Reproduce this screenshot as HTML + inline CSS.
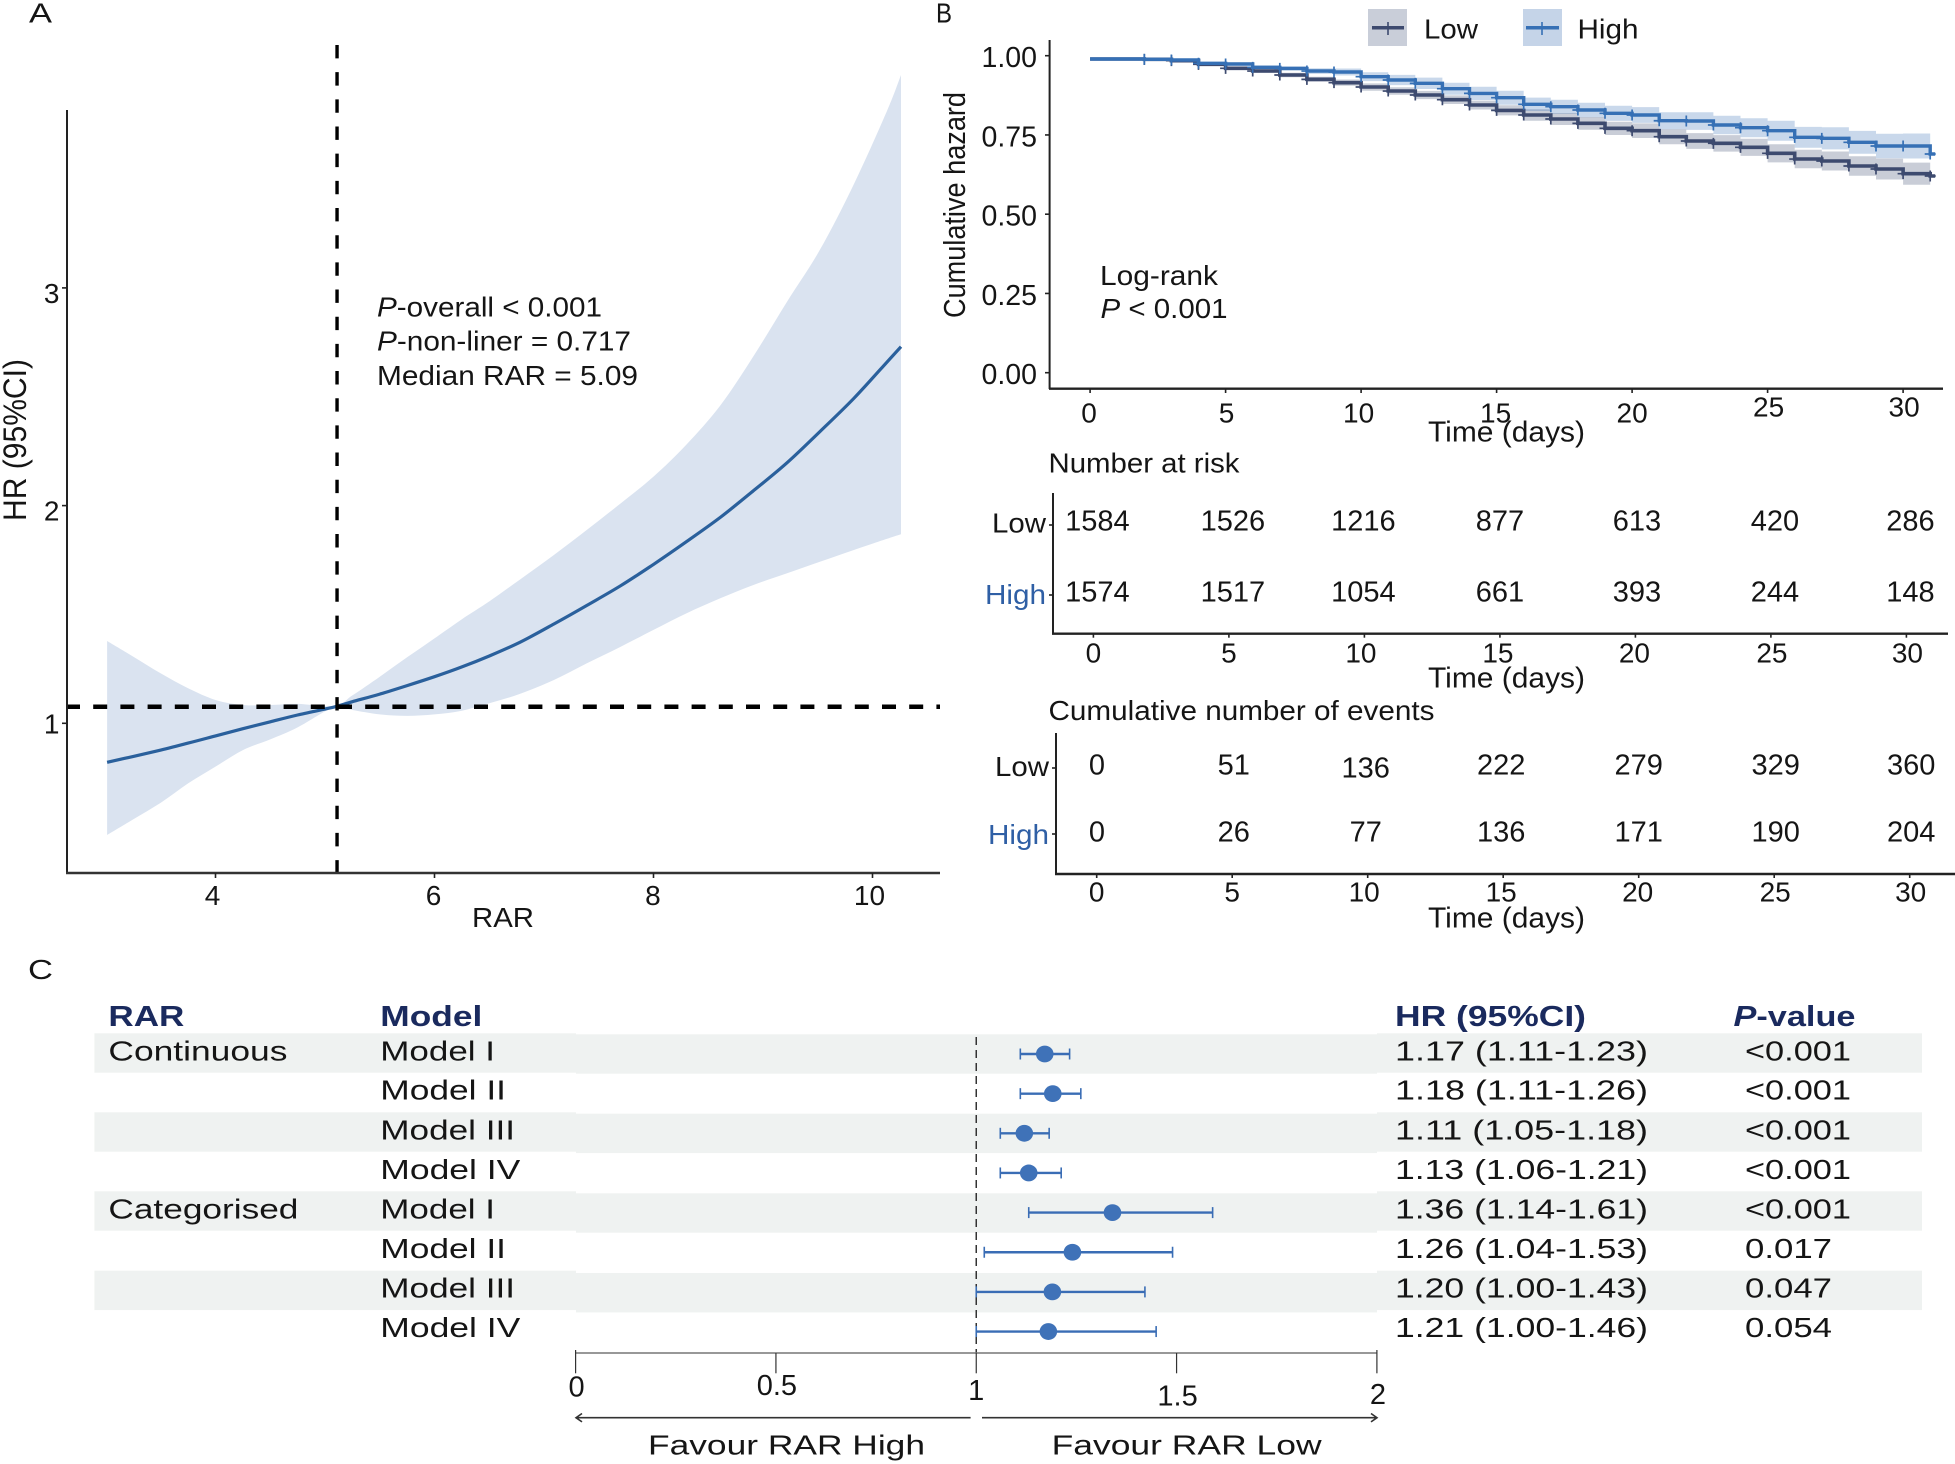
<!DOCTYPE html>
<html lang="en">
<head>
<meta charset="utf-8">
<title>RAR hazard ratio figure</title>
<style>
html,body{margin:0;padding:0;background:#fff;}
svg{display:block;font-family:"Liberation Sans",Arial,sans-serif;}
text{fill:#151515;}
.cell{font-size:28px;}
.hdr{font-size:29px;font-weight:bold;fill:#1a2a5e;}
</style>
</head>
<body>
<svg id="fig" xmlns="http://www.w3.org/2000/svg" width="1955" height="1464" viewBox="0 0 1955 1464">
  <rect x="0" y="0" width="1955" height="1464" fill="#fff"/>

  <!-- Panel letters -->
  <text x="29" y="22.7" font-size="28" textLength="23" lengthAdjust="spacingAndGlyphs">A</text>
  <text x="936" y="22.7" font-size="28" textLength="16" lengthAdjust="spacingAndGlyphs">B</text>
  <text x="28" y="979" font-size="28" textLength="25" lengthAdjust="spacingAndGlyphs">C</text>

  <!-- Panel A -->
  <g id="panelA"></g>
  <text transform="translate(26,440) rotate(-90)" text-anchor="middle" font-size="32" textLength="162" lengthAdjust="spacingAndGlyphs">HR (95%CI)</text>
  <text x="503" y="927" text-anchor="middle" font-size="28" textLength="62" lengthAdjust="spacingAndGlyphs">RAR</text>
  <text x="377" y="316.7" font-size="28" textLength="225" lengthAdjust="spacingAndGlyphs"><tspan font-style="italic">P</tspan>-overall &lt; 0.001</text>
  <text x="377" y="350.7" font-size="28" textLength="254" lengthAdjust="spacingAndGlyphs"><tspan font-style="italic">P</tspan>-non-liner = 0.717</text>
  <text x="377" y="385" font-size="28" textLength="261" lengthAdjust="spacingAndGlyphs">Median RAR = 5.09</text>

  <!-- Panel B -->
  <g id="legend">
    <rect x="1368" y="9" width="39" height="37" fill="#c9ced9"/>
    <rect x="1523" y="9" width="39" height="37" fill="#c5d4e8"/>
    <line x1="1372" y1="27.7" x2="1404" y2="27.7" stroke="#3d4a6f" stroke-width="3.5"/>
    <line x1="1388" y1="22" x2="1388" y2="35" stroke="#3d4a6f" stroke-width="1.6"/>
    <line x1="1526" y1="27.7" x2="1559" y2="27.7" stroke="#3670b5" stroke-width="3.5"/>
    <line x1="1542" y1="22" x2="1542" y2="35" stroke="#3670b5" stroke-width="1.6"/>
    <text x="1424" y="38.5" font-size="28" textLength="54" lengthAdjust="spacingAndGlyphs">Low</text>
    <text x="1577.5" y="38.5" font-size="28" textLength="61" lengthAdjust="spacingAndGlyphs">High</text>
  </g>
  <g id="panelB"></g>
  <text transform="translate(965,205) rotate(-90)" text-anchor="middle" font-size="31" textLength="226" lengthAdjust="spacingAndGlyphs">Cumulative hazard</text>
  <text x="1506.5" y="441.5" text-anchor="middle" font-size="29" textLength="157" lengthAdjust="spacingAndGlyphs">Time (days)</text>
  <text x="1100" y="285" font-size="28" textLength="118" lengthAdjust="spacingAndGlyphs">Log-rank</text>
  <text x="1100.5" y="318" font-size="28" textLength="127" lengthAdjust="spacingAndGlyphs"><tspan font-style="italic">P</tspan> &lt; 0.001</text>

  <text x="1048.5" y="472.7" font-size="28" textLength="191" lengthAdjust="spacingAndGlyphs">Number at risk</text>
  <g id="riskTable"></g>
  <text x="1506.5" y="687.5" text-anchor="middle" font-size="29" textLength="157" lengthAdjust="spacingAndGlyphs">Time (days)</text>

  <text x="1048.5" y="720" font-size="28" textLength="386" lengthAdjust="spacingAndGlyphs">Cumulative number of events</text>
  <g id="eventsTable"></g>
  <text x="1506.5" y="927.5" text-anchor="middle" font-size="29" textLength="157" lengthAdjust="spacingAndGlyphs">Time (days)</text>

  <!-- Panel C row stripes -->
  <g fill="#eff2f1">
    <rect x="94.4" y="1033.3" width="481.6" height="39.4"/>
    <rect x="576" y="1034.3" width="801" height="39.4"/>
    <rect x="1377" y="1033.3" width="545" height="39.4"/>
    <rect x="94.4" y="1112.3" width="481.6" height="39.4"/>
    <rect x="576" y="1113.7" width="801" height="39.4"/>
    <rect x="1377" y="1112.3" width="545" height="39.4"/>
    <rect x="94.4" y="1191.3" width="481.6" height="39.4"/>
    <rect x="576" y="1193.3" width="801" height="39.4"/>
    <rect x="1377" y="1191.3" width="545" height="39.4"/>
    <rect x="94.4" y="1270.7" width="481.6" height="39.4"/>
    <rect x="576" y="1273" width="801" height="39.4"/>
    <rect x="1377" y="1270.7" width="545" height="39.4"/>
  </g>

  <!-- Panel C table text -->
  <text class="hdr" x="108.4" y="1026" textLength="76" lengthAdjust="spacingAndGlyphs">RAR</text>
  <text class="hdr" x="380.3" y="1026" textLength="102" lengthAdjust="spacingAndGlyphs">Model</text>
  <text class="hdr" x="1395" y="1026" textLength="191" lengthAdjust="spacingAndGlyphs">HR (95%CI)</text>
  <text class="hdr" x="1733.5" y="1026" textLength="122" lengthAdjust="spacingAndGlyphs"><tspan font-style="italic">P</tspan>-value</text>

  <text class="cell" x="108.4" y="1060.3" textLength="179" lengthAdjust="spacingAndGlyphs">Continuous</text>
  <text class="cell" x="108.4" y="1218.5" textLength="190" lengthAdjust="spacingAndGlyphs">Categorised</text>

  <text class="cell" x="380.3" y="1060.3" textLength="114.7" lengthAdjust="spacingAndGlyphs">Model I</text>
  <text class="cell" x="380.3" y="1099.6" textLength="125.7" lengthAdjust="spacingAndGlyphs">Model II</text>
  <text class="cell" x="380.3" y="1139.5" textLength="134.7" lengthAdjust="spacingAndGlyphs">Model III</text>
  <text class="cell" x="380.3" y="1179" textLength="140" lengthAdjust="spacingAndGlyphs">Model IV</text>
  <text class="cell" x="380.3" y="1218.5" textLength="114.7" lengthAdjust="spacingAndGlyphs">Model I</text>
  <text class="cell" x="380.3" y="1258" textLength="125.7" lengthAdjust="spacingAndGlyphs">Model II</text>
  <text class="cell" x="380.3" y="1297.5" textLength="134.7" lengthAdjust="spacingAndGlyphs">Model III</text>
  <text class="cell" x="380.3" y="1337" textLength="140" lengthAdjust="spacingAndGlyphs">Model IV</text>

  <text class="cell" x="1395" y="1060.3" textLength="253" lengthAdjust="spacingAndGlyphs">1.17 (1.11-1.23)</text>
  <text class="cell" x="1395" y="1099.6" textLength="253" lengthAdjust="spacingAndGlyphs">1.18 (1.11-1.26)</text>
  <text class="cell" x="1395" y="1139.5" textLength="253" lengthAdjust="spacingAndGlyphs">1.11 (1.05-1.18)</text>
  <text class="cell" x="1395" y="1179" textLength="253" lengthAdjust="spacingAndGlyphs">1.13 (1.06-1.21)</text>
  <text class="cell" x="1395" y="1218.5" textLength="253" lengthAdjust="spacingAndGlyphs">1.36 (1.14-1.61)</text>
  <text class="cell" x="1395" y="1258" textLength="253" lengthAdjust="spacingAndGlyphs">1.26 (1.04-1.53)</text>
  <text class="cell" x="1395" y="1297.5" textLength="253" lengthAdjust="spacingAndGlyphs">1.20 (1.00-1.43)</text>
  <text class="cell" x="1395" y="1337" textLength="253" lengthAdjust="spacingAndGlyphs">1.21 (1.00-1.46)</text>

  <text class="cell" x="1745" y="1060.3" textLength="106" lengthAdjust="spacingAndGlyphs">&lt;0.001</text>
  <text class="cell" x="1745" y="1099.6" textLength="106" lengthAdjust="spacingAndGlyphs">&lt;0.001</text>
  <text class="cell" x="1745" y="1139.5" textLength="106" lengthAdjust="spacingAndGlyphs">&lt;0.001</text>
  <text class="cell" x="1745" y="1179" textLength="106" lengthAdjust="spacingAndGlyphs">&lt;0.001</text>
  <text class="cell" x="1745" y="1218.5" textLength="106" lengthAdjust="spacingAndGlyphs">&lt;0.001</text>
  <text class="cell" x="1745" y="1258" textLength="87" lengthAdjust="spacingAndGlyphs">0.017</text>
  <text class="cell" x="1745" y="1297.5" textLength="87" lengthAdjust="spacingAndGlyphs">0.047</text>
  <text class="cell" x="1745" y="1337" textLength="87" lengthAdjust="spacingAndGlyphs">0.054</text>

  <!-- Panel C plot -->
  <g id="panelC"></g>
  <path d="M970.6 1417.7H576M582 1413.5L576 1417.7L582 1421.9" fill="none" stroke="#333" stroke-width="1.6"/>
  <path d="M982 1417.7H1377M1371 1413.5L1377 1417.7L1371 1421.9" fill="none" stroke="#333" stroke-width="1.6"/>
  <text class="cell" x="648" y="1454.5" textLength="277" lengthAdjust="spacingAndGlyphs">Favour RAR High</text>
  <text class="cell" x="1051.6" y="1454.5" textLength="270" lengthAdjust="spacingAndGlyphs">Favour RAR Low</text>
</svg>

<script>
/* ---------- Panel A data ---------- */
const rarGrid = [3.01,3.25,3.5,3.75,4,4.25,4.5,4.75,5.09,5.25,5.5,5.75,6,6.25,6.5,6.78,7.09,7.39,7.70,8.00,8.30,8.61,8.91,9.22,9.52,9.83,10.13,10.26];
const hrCenter = [0.821,0.848,0.877,0.909,0.942,0.975,1.007,1.038,1.076,1.099,1.134,1.173,1.214,1.259,1.309,1.372,1.456,1.541,1.632,1.730,1.834,1.946,2.067,2.197,2.340,2.493,2.658,2.730];
const hrUpper = [1.378,1.306,1.229,1.161,1.107,1.084,1.084,1.089,1.079,1.128,1.214,1.303,1.390,1.478,1.560,1.660,1.773,1.888,2.010,2.133,2.280,2.460,2.684,2.937,3.175,3.477,3.810,3.978];
const hrLower = [0.487,0.559,0.635,0.724,0.801,0.877,0.926,0.981,1.076,1.061,1.041,1.034,1.041,1.058,1.092,1.135,1.199,1.275,1.352,1.429,1.505,1.574,1.635,1.689,1.742,1.796,1.847,1.868];
const rarTicks = [4,6,8,10];
const hrTicks = [1,2,3];
const medianRar = 5.11;
const referenceHr = 1.076;

/* ---------- Panel B data ---------- */
const days = [0,1,2,3,4,5,6,7,8,9,10,11,12,13,14,15,16,17,18,19,20,21,22,23,24,25,26,27,28,29,30,31];
const lowSurvival = [.9896,.9896,.9885,.9843,.9728,.9602,.9516,.9391,.9254,.9149,.9012,.8885,.876,.8612,.8444,.8276,.8129,.8003,.7866,.7709,.7634,.7445,.7309,.7236,.711,.692,.674,.6678,.652,.6426,.6278,.6205];
const highSurvival = [.9896,.9896,.9885,.9864,.976,.9738,.9633,.96,.9516,.9486,.9338,.9233,.9128,.8959,.8811,.8675,.8467,.8391,.8287,.8183,.8129,.7949,.7939,.7814,.7729,.7634,.7425,.7393,.7267,.7151,.7151,.6899];
const lowCiHalf = [.002,.002,.003,.003,.004,.005,.006,.007,.008,.010,.0115,.012,.013,.0135,.014,.016,.018,.019,.020,.021,.023,.024,.025,.026,.027,.0285,.029,.030,.031,.033,.035,.035];
const highCiHalf = [.002,.002,.003,.003,.004,.005,.006,.007,.009,.011,.014,.016,.018,.019,.021,.022,.021,.022,.023,.024,.025,.027,.028,.029,.030,.0315,.033,.035,.036,.0385,.0395,.0395];
const survivalTicks = ["0.00","0.25","0.50","0.75","1.00"];
const timeTicks = [0,5,10,15,20,25,30];

/* ---------- Risk tables ---------- */
const riskLow = [1584,1526,1216,877,613,420,286];
const riskHigh = [1574,1517,1054,661,393,244,148];
const eventsLow = [0,51,136,222,279,329,360];
const eventsHigh = [0,26,77,136,171,190,204];

/* ---------- Panel C data ---------- */
const forestPoint = [1.171,1.191,1.12,1.131,1.34,1.24,1.19,1.18];
const forestLow = [1.11,1.11,1.06,1.06,1.131,1.02,1.00,1.00];
const forestHigh = [1.233,1.261,1.182,1.212,1.59,1.49,1.421,1.449];
const forestTicks = [0,0.5,1,1.5,2];

const NS = "http://www.w3.org/2000/svg";
function add(parent, tag, attrs, txt) {
  const el = document.createElementNS(NS, tag);
  for (const k in attrs) el.setAttribute(k, attrs[k]);
  if (txt !== undefined) el.textContent = txt;
  parent.appendChild(el);
  return el;
}
function smooth(pts) {
  let d = "M" + pts[0][0].toFixed(1) + " " + pts[0][1].toFixed(1);
  for (let i = 0; i < pts.length - 1; i++) {
    const p0 = pts[Math.max(i - 1, 0)], p1 = pts[i], p2 = pts[i + 1], p3 = pts[Math.min(i + 2, pts.length - 1)];
    const c1x = p1[0] + (p2[0] - p0[0]) / 6, c1y = p1[1] + (p2[1] - p0[1]) / 6;
    const c2x = p2[0] - (p3[0] - p1[0]) / 6, c2y = p2[1] - (p3[1] - p1[1]) / 6;
    d += "C" + c1x.toFixed(1) + " " + c1y.toFixed(1) + " " + c2x.toFixed(1) + " " + c2y.toFixed(1) + " " + p2[0].toFixed(1) + " " + p2[1].toFixed(1);
  }
  return d;
}

/* ---------- Panel A ---------- */
const gA = document.getElementById("panelA");
const xA = r => 215.5 + (r - 4) * 109.5;
const yA = h => 723.3 - (h - 1) * 217.7;
const nudgeRarLabel = v => ({ 4: -3, 6: -1, 8: -0.6, 10: -3 })[v];

const upperPts = rarGrid.map((r, i) => [xA(r), yA(hrUpper[i])]);
const lowerPts = rarGrid.map((r, i) => [xA(r), yA(hrLower[i])]).reverse();
const bandA = add(gA, "path", { d: smooth(upperPts) + "L" + smooth(lowerPts).slice(1) + "Z", fill: "#dae3f0" });



const lineA = add(gA, "path", { d: smooth(rarGrid.map((r, i) => [xA(r), yA(hrCenter[i])])), fill: "none", stroke: "#2a609c", "stroke-width": 3.2 });



const refH = add(gA, "line", { x1: 66, x2: 940, y1: yA(referenceHr), y2: yA(referenceHr), stroke: "#000", "stroke-width": 4.5, "stroke-dasharray": "14 13.2" });



const refV = add(gA, "line", { x1: xA(medianRar), x2: xA(medianRar), y1: 45, y2: 873, stroke: "#000", "stroke-width": 3.4, "stroke-dasharray": "13.4 13.77" });



const yAxisA = add(gA, "line", { x1: 67, x2: 67, y1: 110, y2: 874, stroke: "#222", "stroke-width": 2 });


const xAxisA = add(gA, "line", { x1: 66, x2: 940, y1: 873, y2: 873, stroke: "#333", "stroke-width": 2.6 });



rarTicks.forEach(v => {
  const t = add(gA, "line", { x1: xA(v), x2: xA(v), y1: 873, y2: 878, stroke: "#222", "stroke-width": 1.6 });
  
  
  const l = add(gA, "text", { x: xA(v) + nudgeRarLabel(v), y: 905, "text-anchor": "middle", "font-size": 28 }, String(v));
  
  
});
hrTicks.forEach(v => {
  const t = add(gA, "line", { x1: 62, x2: 67, y1: yA(v), y2: yA(v), stroke: "#222", "stroke-width": 1.6 });
  
  
  const l = add(gA, "text", { x: 59.5, y: yA(v) + (v === 1 ? 10 : 15), "text-anchor": "end", "font-size": 28 }, String(v));
  
  
});

/* ---------- Panel B ---------- */
const gB = document.getElementById("panelB");
const xB = t => 1090.1 + t * 27.1;
const yB = s => 372.7 - s * 317;
const nudgeSurvLabel = v => ({ 0: -1, 5: 1, 10: -2.5, 15: -1, 20: 0, 25: 1, 30: 1 })[v];

function stepForward(vals) {
  let d = "M" + xB(days[0]).toFixed(1) + " " + yB(vals[0]).toFixed(1);
  for (let i = 1; i < days.length; i++) {
    d += "H" + xB(days[i]).toFixed(1) + "V" + yB(vals[i]).toFixed(1);
  }
  return d;
}
function stepBand(vals, half) {
  const n = days.length - 1;
  const hi = vals.map((v, i) => v + half[i]);
  const lo = vals.map((v, i) => v - half[i]);
  let d = "M" + xB(days[0]).toFixed(1) + " " + yB(hi[0]).toFixed(1);
  for (let i = 1; i < n; i++) {
    d += "H" + xB(days[i]).toFixed(1) + "V" + yB(hi[i]).toFixed(1);
  }
  d += "H" + xB(days[n]).toFixed(1) + "V" + yB(lo[n - 1]).toFixed(1);
  for (let i = n - 1; i >= 0; i--) {
    d += "H" + xB(days[i]).toFixed(1);
    if (i > 0) d += "V" + yB(lo[i - 1]).toFixed(1);
  }
  return d + "Z";
}

const bandLow = add(gB, "path", { d: stepBand(lowSurvival, lowCiHalf), fill: "#3d4a6f", "fill-opacity": 0.28 });


const bandHigh = add(gB, "path", { d: stepBand(highSurvival, highCiHalf), fill: "#3670b5", "fill-opacity": 0.27 });



const lineLow = add(gB, "path", { d: stepForward(lowSurvival) + "h5", fill: "none", stroke: "#3d4a6f", "stroke-width": 3.6 });


days.forEach((t, i) => {
  if (t < 2) return;
  const px = xB(t), py = yB(lowSurvival[i]);
  const a = add(gB, "path", { d: "M" + (px - 5.5) + " " + py + "H" + (px + 5.5) + "M" + px + " " + (py - 5.5) + "V" + (py + 5.5), fill: "none", stroke: "#3d4a6f", "stroke-width": 1.7 });
  
  
});
const lineHigh = add(gB, "path", { d: stepForward(highSurvival) + "h5", fill: "none", stroke: "#3670b5", "stroke-width": 3.4 });


days.forEach((t, i) => {
  if (t < 2) return;
  const px = xB(t), py = yB(highSurvival[i]);
  const b = add(gB, "path", { d: "M" + (px - 5.5) + " " + py + "H" + (px + 5.5) + "M" + px + " " + (py - 5.5) + "V" + (py + 5.5), fill: "none", stroke: "#3670b5", "stroke-width": 1.7 });
  
  
});

const yAxisB = add(gB, "line", { x1: 1049.6, x2: 1049.6, y1: 40, y2: 389, stroke: "#222", "stroke-width": 2 });


const xAxisB = add(gB, "line", { x1: 1049, x2: 1943, y1: 388.7, y2: 388.7, stroke: "#222", "stroke-width": 2.4 });



survivalTicks.forEach(s => {
  const v = parseFloat(s);
  const t = add(gB, "line", { x1: 1045, x2: 1049.6, y1: yB(v), y2: yB(v), stroke: "#222", "stroke-width": 1.6 });
  
  
  const l = add(gB, "text", { x: 1037, y: yB(v) + 11.5, "text-anchor": "end", "font-size": 28.5 }, s);
  
  
});
timeTicks.forEach(v => {
  const t = add(gB, "line", { x1: xB(v), x2: xB(v), y1: 388.7, y2: 393, stroke: "#222", "stroke-width": 1.6 });
  
  
  const l = add(gB, "text", { x: xB(v) + nudgeSurvLabel(v), y: v >= 25 ? 416.7 : 422.7, "text-anchor": "middle", "font-size": 28 }, String(v));
  
  
});

/* ---------- Risk tables ---------- */
const nudgeTableLabel = v => ({ 0: 0, 5: 0, 10: -3.5, 15: -2, 20: -1, 25: 1, 30: 1 })[v];
const riskColumnShift = [4, 4, -1, 0, 1.5, 4, 4];
const eventsColumnShift = [0.3, 1.5, -2, -2, 0, 1.5, 1.5];

function drawTable(g, x0, axisX, axisTop, axisY, axisEnd, rowLowY, rowHighY, tickLowY, tickHighY, lowVals, highVals, tickBase, prefix, shift) {
  const xT = t => x0 + t * 27.1;
  const ya = add(g, "line", { x1: axisX, x2: axisX, y1: axisTop, y2: axisY, stroke: "#222", "stroke-width": 2 });
  
  
  const xa = add(g, "line", { x1: axisX - 1, x2: axisEnd, y1: axisY, y2: axisY, stroke: "#222", "stroke-width": 2.4 });
  
  

  const tl = add(g, "line", { x1: axisX - 4, x2: axisX, y1: tickLowY, y2: tickLowY, stroke: "#222", "stroke-width": 1.6 });
  
  
  const th = add(g, "line", { x1: axisX - 4, x2: axisX, y1: tickHighY, y2: tickHighY, stroke: "#222", "stroke-width": 1.6 });
  
  

  const ll = add(g, "text", { x: axisX - 7, y: rowLowY + 1.7, "text-anchor": "end", "font-size": 28, textLength: 54, lengthAdjust: "spacingAndGlyphs" }, "Low");
  
  
  const lh = add(g, "text", { x: axisX - 7, y: rowHighY + 2.2, "text-anchor": "end", "font-size": 28, textLength: 61, lengthAdjust: "spacingAndGlyphs", style: "fill:#2f5fa5" }, "High");
  
  

  timeTicks.forEach((v, i) => {
    const t = add(g, "line", { x1: xT(v), x2: xT(v), y1: axisY, y2: axisY + 4, stroke: "#222", "stroke-width": 1.6 });
    
    
    const l = add(g, "text", { x: xT(v) + nudgeTableLabel(v), y: tickBase, "text-anchor": "middle", "font-size": 28 }, String(v));
    
    
    const a = add(g, "text", { x: xT(v) + shift[i], y: rowLowY + (lowVals[i] === 136 && prefix === 'events' ? 3 : 0), "text-anchor": "middle", "font-size": 29 }, String(lowVals[i]));
    
    
    const b = add(g, "text", { x: xT(v) + shift[i], y: rowHighY, "text-anchor": "middle", "font-size": 29 }, String(highVals[i]));
    
    
  });
}
drawTable(document.getElementById("riskTable"), 1093.4, 1053, 493, 633.7, 1948, 530.7, 601.7, 525, 595, riskLow, riskHigh, 662.7, 'risk', riskColumnShift);
drawTable(document.getElementById("eventsTable"), 1096.7, 1056, 733, 874, 1955, 774.5, 841.7, 768, 834, eventsLow, eventsHigh, 901.7, 'events', eventsColumnShift);

/* ---------- Panel C ---------- */
const gC = document.getElementById("panelC");
const xC = v => 575.6 + v * 400.65;
const rowY = i => 1054 + i * 39.65;
const nudge = v => ({ 0: 1.7, 0.5: 0, 1: 5, 1.5: 10.7, 2: 9 })[v];

const refC = add(gC, "line", { x1: xC(1), x2: xC(1), y1: 1037, y2: 1353, stroke: "#333", "stroke-width": 1.5, "stroke-dasharray": "8 5" });



const axisC = add(gC, "line", { x1: xC(0), x2: xC(2), y1: 1353, y2: 1353, stroke: "#777", "stroke-width": 1.6 });



forestTicks.forEach(v => {
  const edge = v === 0 || v === 2;
  const t = add(gC, "line", { x1: xC(v), x2: xC(v), y1: edge ? 1350 : 1353, y2: 1373.3, stroke: "#333", "stroke-width": 1.2 });
  
  
  const l = add(gC, "text", { x: xC(v) + (v === 1 ? 0 : 1), y: 1395 + nudge(v), "text-anchor": "middle", "font-size": 29 }, String(v));
  
  
});

forestPoint.forEach((p, i) => {
  const ci = add(gC, "line", { x1: xC(forestLow[i]), x2: xC(forestHigh[i]), y1: rowY(i), y2: rowY(i), stroke: "#3a6db5", "stroke-width": 2.4 });
  
  
  const capL = add(gC, "line", { x1: xC(forestLow[i]), x2: xC(forestLow[i]), y1: rowY(i) - 5.5, y2: rowY(i) + 5.5, stroke: "#3a6db5", "stroke-width": 1.6 });
  
  
  const capH = add(gC, "line", { x1: xC(forestHigh[i]), x2: xC(forestHigh[i]), y1: rowY(i) - 5.5, y2: rowY(i) + 5.5, stroke: "#3a6db5", "stroke-width": 1.6 });
  
  
  const dot = add(gC, "ellipse", { cx: xC(p), cy: rowY(i), rx: 8.8, ry: 8.4, fill: "#3f72b8" });
  
  
});
</script>
</body>
</html>
